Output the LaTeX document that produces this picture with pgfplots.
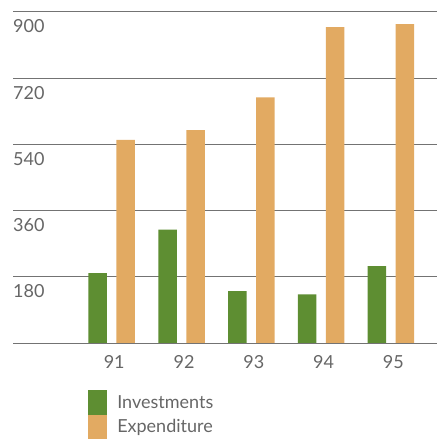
\documentclass[border=0pt]{standalone}
\usepackage{pgfplots}
\pgfplotsset{compat=1.18}
\usepackage{fontspec}
\setmainfont{Lato}
\definecolor{invgreen}{HTML}{5E8E32}
\definecolor{exporange}{HTML}{E2AA62}
\definecolor{txtgray}{HTML}{666666}
\begin{document}
\begin{tikzpicture}
\useasboundingbox (0,0) rectangle (440pt,441pt);
\begin{axis}[
  at={(13pt,98pt)}, anchor=south west,
  scale only axis, width=424pt, height=331.3pt,
  xmin=-1.414, xmax=4.66, ymin=0, ymax=900,
  clip=false,
  axis line style={draw=none},
  tick style={draw=none},
  ymajorgrids, major grid style={draw=black!55, line width=0.7pt},
  ytick={0,180,360,540,720,900},
  yticklabels={,180,360,540,720,900},
  xtick={0,1,2,3,4},
  xticklabels={91,92,93,94,95},
  font=\fontsize{18}{21}\selectfont,
  /pgf/number format/assume math mode=true,
  yticklabel style={anchor=north west, inner sep=0pt, text=txtgray, xshift=0pt, yshift=-8pt},
  xticklabel style={anchor=north, inner sep=0pt, text=txtgray, xshift=2.5pt, yshift=-8pt},
  ybar, bar width=18.5pt,
  legend style={at={(0.177,-0.1419)}, anchor=north west, draw=none, fill=none,
    font=\fontsize{18}{21}\selectfont, text=txtgray,
    row sep=0pt, column sep=0pt, inner sep=0pt,
    nodes={inner sep=0pt}},
  legend cell align=left,
  legend image code/.code={\fill[#1] (0pt,-12.25pt) rectangle (19pt,12.25pt);},
  every axis legend/.append style={cells={anchor=west}},
]
\addplot[draw=none, fill=invgreen, bar shift=-14pt] coordinates {(0,190) (1,308) (2,141) (3,132) (4,209)};
\addplot[draw=none, fill=exporange, bar shift=14pt] coordinates {(0,552) (1,578) (2,667) (3,858) (4,866)};
\legend{\hspace{10pt}Investments, \hspace{10pt}Expenditure}
\end{axis}
\end{tikzpicture}
\end{document}
